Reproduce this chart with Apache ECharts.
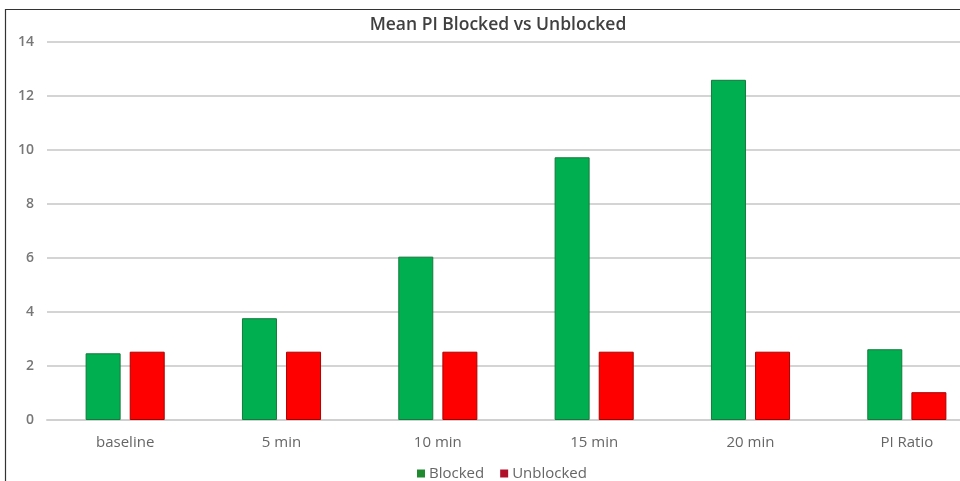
<!DOCTYPE html>
<html><head><meta charset="utf-8">
<script src="https://cdn.jsdelivr.net/npm/echarts@6/dist/echarts.min.js"></script>
<style>html,body{margin:0;padding:0;background:#fff;width:960px;height:481px;overflow:hidden}#c{width:1000px;height:481px}</style>
</head><body><div id="c"></div>
<script>
const categories = ['baseline', '5 min', '10 min', '15 min', '20 min', 'PI Ratio'];
const blocked = [2.47, 3.77, 6.05, 9.73, 12.6, 2.62];
const unblocked = [2.53, 2.53, 2.53, 2.53, 2.53, 1.03];
const yTicks = { min: 0, max: 14, interval: 2 };
const FONT = '"Open Sans", "DejaVu Sans", sans-serif';
const chart = echarts.init(document.getElementById('c'));
chart.setOption({
  animation: false,
  title: { text: 'Mean PI Blocked vs Unblocked', left: 493, textAlign: 'center', top: 11,
    textStyle: { fontFamily: FONT, fontSize: 17.5, fontWeight: 600, color: '#404040' } },
  graphic: [{ type: 'rect', shape: { x: 5.5, y: 9.5, width: 1040, height: 500 },
    style: { fill: 'none', stroke: '#333', lineWidth: 1.2 }, silent: true }],
  legend: { top: 461, left: 412, itemWidth: 8, itemHeight: 8, itemGap: 16,
    icon: 'rect', textStyle: { fontFamily: FONT, fontSize: 15, color: '#666', padding: [0,0,0,-1] },
    data: [{ name: 'Blocked', itemStyle: { color: '#1f8a30', borderWidth: 0 } },
           { name: 'Unblocked', itemStyle: { color: '#b0102a', borderWidth: 0 } }] },
  grid: { left: 47, right: 15, top: 42, bottom: 61, containLabel: false, outerBoundsMode: 'none' },
  xAxis: { type: 'category', data: categories,
    axisLine: { lineStyle: { color: '#d0d0d0', width: 2 } }, axisTick: { show: false },
    axisLabel: { fontFamily: FONT, fontSize: 15, color: '#666', margin: 15 } },
  yAxis: { type: 'value', min: yTicks.min, max: yTicks.max, interval: yTicks.interval,
    axisLine: { show: false }, axisTick: { show: false },
    splitLine: { lineStyle: { color: '#d4d4d4', width: 2 } },
    axisLabel: { fontFamily: FONT, fontSize: 14, fontWeight: 600, color: '#777', margin: 13 } },
  series: [
    { name: 'Blocked', type: 'bar', data: blocked, barWidth: 35, barGap: '26%',
      itemStyle: { color: '#00B050', borderColor: '#127a3a', borderWidth: 1 } },
    { name: 'Unblocked', type: 'bar', data: unblocked, barWidth: 35,
      itemStyle: { color: '#FF0000', borderColor: '#a80000', borderWidth: 1 } }
  ]
});
</script></body></html>
